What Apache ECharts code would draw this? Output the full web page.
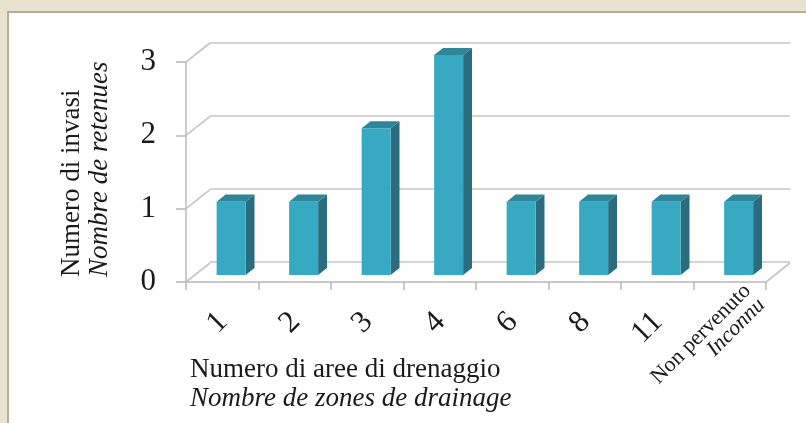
<!DOCTYPE html>
<html>
<head>
<meta charset="utf-8">
<script src="https://cdn.jsdelivr.net/npm/echarts@6/dist/echarts.min.js"></script>
<style>
html,body{margin:0;padding:0;background:#e9e2cf;}
#chart{width:806px;height:423px;}
</style>
</head>
<body>
<div id="chart"></div>
<script>
// ---- data ----
const categories = ['1', '2', '3', '4', '6', '8', '11', 'Non pervenuto|Inconnu'];
const invasi = [1, 1, 2, 3, 1, 1, 1, 1];
const yTicks = [0, 1, 2, 3];
const yTitle = ['Numero di invasi', 'Nombre de retenues'];
const xTitle = ['Numero di aree di drenaggio', 'Nombre de zones de drainage'];

// ---- geometry (3D look) ----
const DX = 24, DY = -19;          // depth of the back wall
const BAR_W = 29;
const BAR_F = 0.37;               // front face position in depth
const BAR_D = 0.37;               // bar depth fraction

const FONT = '"Liberation Serif", "Times New Roman", serif';
const chart = echarts.init(document.getElementById('chart'), null, {renderer: 'canvas'});

function barItem(params, api) {
  const i = api.value(0), v = api.value(1);
  const base = api.coord([i, 0]);
  const top = api.coord([i, v]);
  const fx = DX * BAR_F, fy = DY * BAR_F;
  const dx = DX * BAR_D, dy = DY * BAR_D;
  const x0 = base[0] + fx - BAR_W / 2, x1 = x0 + BAR_W;
  const yb = base[1] + fy, yt = top[1] + fy;
  return {
    type: 'group',
    children: [
      {type: 'polygon', shape: {points: [[x1, yt], [x1 + dx, yt + dy], [x1 + dx, yb + dy], [x1, yb]]},
       style: {fill: '#2b6d7e'}},
      {type: 'polygon', shape: {points: [[x0, yt], [x0 + dx, yt + dy], [x1 + dx, yt + dy], [x1, yt]]},
       style: {fill: '#2f8699'}},
      {type: 'rect', shape: {x: x0, y: yt, width: BAR_W, height: yb - yt},
       style: {fill: '#38a9c2'}}
    ]
  };
}

function wallItem(params, api) {
  const v = api.value(0);
  const cs = params.coordSys;
  const y = api.coord([0, v])[1];
  const children = [
    {type: 'line', shape: {x1: cs.x, y1: y, x2: cs.x + DX, y2: y + DY},
     style: {stroke: '#c6c6c6', lineWidth: 1.6}}
  ];
  if (v === 0) {
    children.push({type: 'line', shape: {x1: cs.x + cs.width, y1: y, x2: cs.x + cs.width + DX, y2: y + DY},
      style: {stroke: '#c6c6c6', lineWidth: 1.6}});
  }
  return {type: 'group', children: children};
}

const option = {
  backgroundColor: '#e9e2cf',
  animation: false,
  graphic: [
    {type: 'rect', z: -10, shape: {x: 8, y: 12, width: 820, height: 430},
     style: {fill: '#ffffff', stroke: '#b1af96', lineWidth: 2}},
    {type: 'text', x: 72, y: 277, rotation: Math.PI / 2,
     style: {text: yTitle[0], font: '27px ' + FONT, fill: '#1a1a1a', textAlign: 'left', textVerticalAlign: 'middle'}},
    {type: 'text', x: 100, y: 277, rotation: Math.PI / 2,
     style: {text: yTitle[1], font: 'italic 27px ' + FONT, fill: '#1a1a1a', textAlign: 'left', textVerticalAlign: 'middle'}},
    {type: 'text', x: 190, y: 370,
     style: {text: xTitle[0], font: '27px ' + FONT, fill: '#1a1a1a', textAlign: 'left', textVerticalAlign: 'middle'}},
    {type: 'text', x: 190, y: 399,
     style: {text: xTitle[1], font: 'italic 27px ' + FONT, fill: '#1a1a1a', textAlign: 'left', textVerticalAlign: 'middle'}}
  ],
  grid: [
    {left: 186, top: 62, width: 580, height: 220, outerBoundsMode: 'none', containLabel: false},
    {left: 210, top: 43, width: 580, height: 219, outerBoundsMode: 'none', containLabel: false}
  ],
  xAxis: [
    {
      type: 'category', gridIndex: 0, data: categories, boundaryGap: true,
      axisLine: {show: true, lineStyle: {color: '#b8b8b8', width: 1.5}},
      axisTick: {show: true, length: 8, alignWithLabel: false, interval: 0, lineStyle: {color: '#b8b8b8', width: 1.5}},
      splitLine: {show: false},
      axisLabel: {
        interval: 0, rotate: 45, margin: -12, color: '#1a1a1a', fontFamily: FONT,
        formatter: function (val) {
          if (val.indexOf('|') >= 0) {
            const p = val.split('|');
            return '{a|' + p[0] + '}\n{b|' + p[1] + '}';
          }
          return '{d|' + val + '}';
        },
        rich: {
          d: {fontSize: 31, fontFamily: FONT, color: '#1a1a1a', height: 30, padding: [68, 33, 0, 0]},
          a: {fontSize: 22, fontFamily: FONT, color: '#1a1a1a', height: 20, padding: [70, 0, 0, 0]},
          b: {fontSize: 22, fontFamily: FONT, fontStyle: 'italic', color: '#1a1a1a', height: 20, lineHeight: 20}
        }
      }
    },
    {
      type: 'category', gridIndex: 1, data: categories, show: false,
      axisLine: {show: false}, axisTick: {show: false}, axisLabel: {show: false}
    }
  ],
  yAxis: [
    {
      type: 'value', gridIndex: 0, min: 0, max: 3, interval: 1,
      axisLine: {show: true, lineStyle: {color: '#b8b8b8', width: 1.5}},
      axisTick: {show: true, length: 10, lineStyle: {color: '#b8b8b8', width: 1.5}},
      splitLine: {show: false},
      axisLabel: {margin: 30, fontSize: 31, fontFamily: FONT, color: '#1a1a1a'}
    },
    {
      type: 'value', gridIndex: 1, min: 0, max: 3, interval: 1,
      axisLine: {show: false}, axisTick: {show: false}, axisLabel: {show: false},
      splitLine: {show: true, lineStyle: {color: '#c6c6c6', width: 1.6}}
    }
  ],
  series: [
    {
      type: 'custom', xAxisIndex: 0, yAxisIndex: 0, z: 1,
      renderItem: wallItem,
      data: yTicks.map(v => [v])
    },
    {
      type: 'custom', xAxisIndex: 0, yAxisIndex: 0, z: 5,
      renderItem: barItem,
      data: invasi.map((v, i) => [i, v])
    }
  ]
};
chart.setOption(option);
</script>
</body>
</html>
